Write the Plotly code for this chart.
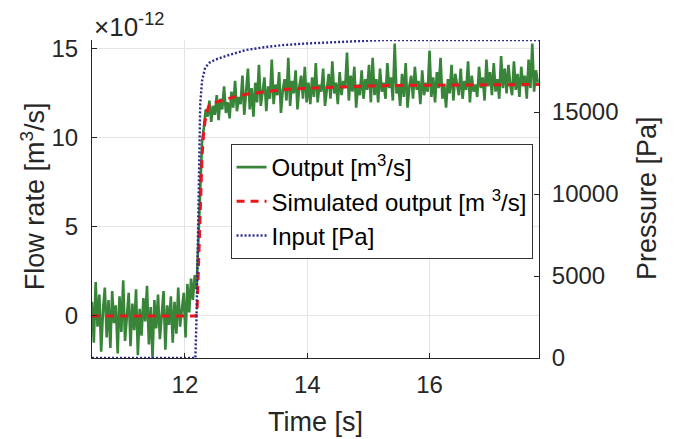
import numpy as np
import plotly.graph_objects as go

# ---- data (flow values in units of 1e-12 m^3/s) ----
t_start = 10.48
dt = 0.03
output_e12 = [
    0.8, -1.5, 1.9, -0.6, 1.2, -2.0, 0.3, 1.6, -1.2, 0.9,
    -1.8, 1.4, -0.4, 0.6, -2.1, 1.1, -0.9, 2.0, -1.4, 0.2,
    1.3, -1.7, 0.7, -0.8, 1.5, -2.2, 0.4, -1.1, 1.0, -0.3,
    1.7, -1.6, 0.5, -2.36, 0.9, -0.7, 1.2, -1.3, 0.1, 1.4,
    -1.9, 0.6, -0.5, 1.1, -1.5, 0.8, -1.0, 1.6, -0.6, 0.3,
    1.3, -1.2, 1.8, 0.2, 2.1, 0.9, 2.3,
    1.5, 4.5, 7.5, 9.8, 10.6, 11.6,
    11.2, 12.1, 10.9, 11.8, 11.3, 12.4, 11.0, 12.2, 11.6, 12.9,
    11.4, 12.0, 11.1, 12.6, 11.7, 13.2, 11.5, 12.3, 11.9, 13.5, 11.3, 12.4,
    13.9, 11.6, 12.8, 11.2, 13.1, 12.0, 14.1, 11.8, 12.6, 13.4,
    11.5, 12.9, 12.2, 14.4, 11.9, 13.0, 12.4, 13.7, 11.4, 12.7,
    13.3, 12.1, 14.5, 11.8, 13.2, 12.5, 13.8, 11.6, 12.9, 13.5,
    12.2, 14.0, 12.0, 13.1, 11.9,
    13.4, 12.3, 14.2, 12.0, 13.0, 12.6, 13.9, 11.8, 12.9, 13.6,
    12.2, 14.3, 12.5, 13.1, 11.9, 13.7, 12.4, 13.2, 12.8, 14.8,
    12.1, 13.5, 12.6, 14.0, 11.7, 13.0, 12.4, 13.8, 12.2, 13.3,
    12.7, 14.1, 12.0,
    14.5, 12.4, 13.3, 12.0, 13.9, 12.6, 13.1, 12.2, 14.2, 12.8,
    13.4, 12.1, 15.3, 12.5, 13.0, 11.8, 13.6, 12.3, 14.2, 11.7,
    12.9, 13.5, 12.2, 14.0, 12.7, 13.2, 11.9, 13.8, 12.4, 13.1,
    12.6, 14.9, 12.3, 13.4, 12.0, 13.7, 12.8, 14.5, 12.2, 13.0,
    11.7, 13.3, 12.5, 14.1, 12.1, 13.6, 12.9, 12.4, 13.9, 12.2,
    13.2, 12.7, 14.3, 12.0, 13.5, 12.6, 13.0, 12.3, 14.0, 12.8,
    13.4, 12.1, 14.4, 12.9, 13.7, 12.4, 14.2, 12.6, 13.3, 12.2,
    14.6, 12.8, 13.9, 12.5, 14.1, 13.0, 12.4, 14.3, 12.7, 13.6,
    12.3, 14.0, 12.9, 13.5, 12.2, 14.4, 12.8, 15.3, 12.6, 13.8, 13.1,
]
time_output = t_start + dt * np.arange(len(output_e12))

sim_time = [10.48, 12.18, 12.20, 12.22, 12.25, 12.28, 12.31, 12.35, 12.40, 12.50,
            12.60, 12.80, 13.00, 13.30, 13.60, 14.00, 14.50, 15.00, 15.50, 16.00,
            17.00, 17.79]
sim_e12 = [0, 0, 0.5, 3.0, 6.0, 9.0, 10.5, 11.4, 11.85, 12.0,
           12.1, 12.3, 12.45, 12.6, 12.72, 12.8, 12.88, 12.92, 12.95, 12.97,
           12.99, 13.0]

input_time = [10.48, 12.17, 12.19, 12.21, 12.23, 12.25, 12.28, 12.33, 12.40, 12.50,
              12.70, 13.00, 13.30, 13.60, 14.00, 14.50, 15.00, 15.30, 17.79]
input_pa = [0, 0, 2500, 7000, 12000, 15500, 16900, 17700, 18000, 18200,
            18450, 18780, 18950, 19080, 19180, 19280, 19350, 19390, 19390]

x_ticks = [12, 14, 16]
y_ticks = [0, 5, 10, 15]
y2_ticks = [0, 5000, 10000, 15000]
y2_labels = ["0", "5000", "10000", "15000"]

FONT = "Liberation Sans, Arial, sans-serif"
TXT = "#262626"

fig = go.Figure()
fig.add_trace(go.Scatter(x=time_output, y=output_e12, mode="lines",
                         name="Output [m<sup>3</sup>/s]",
                         line=dict(color="#38853a", width=2.6)))
fig.add_trace(go.Scatter(x=sim_time, y=sim_e12, mode="lines",
                         name="Simulated output [m <sup>3</sup>/s]",
                         line=dict(color="#e8191d", width=3, dash="8px,6px")))
fig.add_trace(go.Scatter(x=input_time, y=input_pa, mode="lines", yaxis="y2",
                         name="Input [Pa]",
                         line=dict(color="#2b2b8c", width=2.4, dash="2px,2px")))

axis_common = dict(showline=True, linecolor=TXT, linewidth=1, ticks="inside",
                   ticklen=5, tickcolor=TXT, zeroline=False, automargin=False,
                   tickfont=dict(family=FONT, size=24, color=TXT))

# The page body adds an 8px offset; the figure is sized to fit the window.
W, H = 670, 431
fig.update_layout(
    width=W, height=H,
    margin=dict(l=84, r=139, t=32, b=81),
    paper_bgcolor="white", plot_bgcolor="white",
    font=dict(family=FONT, color=TXT),
    xaxis=dict(range=[10.48, 17.79], tickvals=x_ticks, showgrid=True,
               gridcolor="#e4e4e4", ticklabelstandoff=5, **axis_common),
    yaxis=dict(range=[-2.36, 15.5], tickvals=y_ticks, showgrid=True,
               gridcolor="#e4e4e4", ticklabelstandoff=8, **axis_common),
    yaxis2=dict(range=[0, 19390], tickvals=y2_ticks, ticktext=y2_labels,
                overlaying="y", side="right",
                showgrid=False, ticklabelstandoff=7, **axis_common),
    legend=dict(x=0.31, y=0.673, xanchor="left", yanchor="top",
                bgcolor="white", bordercolor="#333333", borderwidth=1,
                font=dict(family=FONT, size=24, color="black"),
                tracegroupgap=0),
    annotations=[
        dict(text="×10<sup>-12</sup>", xref="paper", yref="paper",
             x=0, y=1, xanchor="left", yanchor="bottom", yshift=-4,
             showarrow=False, font=dict(family=FONT, size=26, color=TXT)),
        dict(text="Flow rate [m<sup>3</sup>/s]", xref="paper", yref="paper",
             x=-0.132, y=0.509, xanchor="center", yanchor="middle", textangle=-90,
             showarrow=False, font=dict(family=FONT, size=27, color=TXT)),
        dict(text="Pressure [Pa]", xref="paper", yref="paper",
             x=1.2416, y=0.503, xanchor="center", yanchor="middle", textangle=-90,
             showarrow=False, font=dict(family=FONT, size=27, color=TXT)),
        dict(text="Time [s]", xref="paper", yref="paper",
             x=0.5, y=-0.2, xanchor="center", yanchor="middle",
             showarrow=False, font=dict(family=FONT, size=27, color=TXT)),
    ],
)

fig.write_html("out.html")
